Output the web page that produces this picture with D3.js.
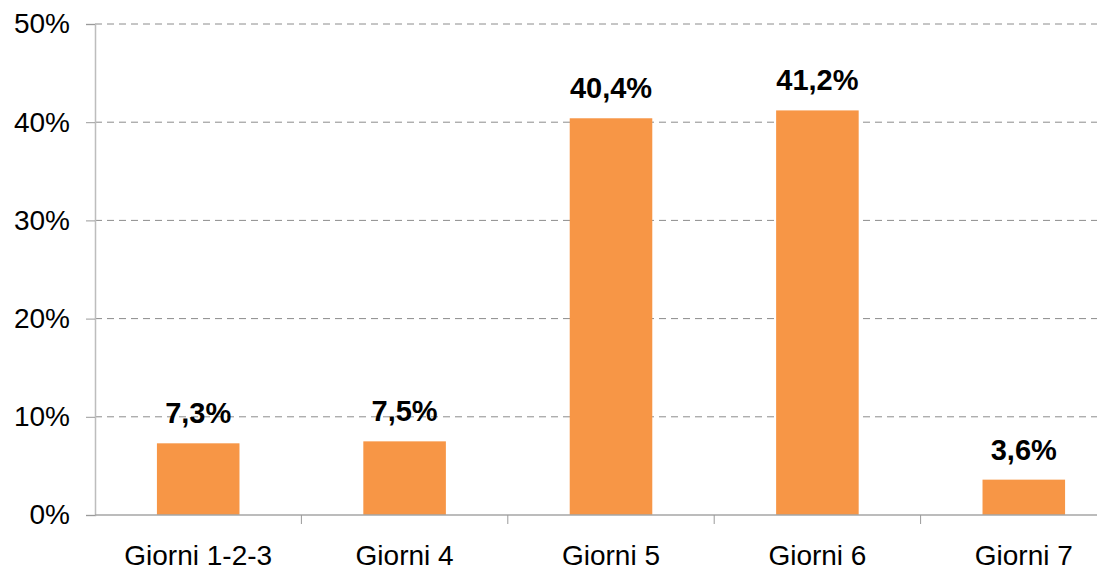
<!DOCTYPE html>
<html lang="it">
  <head>
    <meta charset="utf-8">
    <title>Giorni</title>
    <script src="https://cdn.jsdelivr.net/npm/d3@7"></script>
    <style>
      body { margin: 0; background: #fff; }
      svg { display: block; font-family: "Liberation Sans", Arial, sans-serif; }
    </style>
  </head>
  <body>
    <svg width="1097" height="571" id="mainsvg"></svg>
    <script>
      const categories = ['Giorni 1-2-3', 'Giorni 4', 'Giorni 5', 'Giorni 6', 'Giorni 7'];
      const values = [7.3, 7.5, 40.4, 41.2, 3.6];
      const yTicks = [0, 10, 20, 30, 40, 50];

      const svg = d3.select('#mainsvg');
      const margin = { top: 24, left: 95 };
      const innerHeight = 515 - margin.top;
      const innerWidth = 1032; // plot runs past the right edge of the picture

      const x = d3.scaleBand().domain(categories).range([0, innerWidth]).paddingInner(0.6).paddingOuter(0.3);
      const xTicks = d3.scalePoint().domain(d3.range(categories.length + 1)).range([0, innerWidth]);
      const y = d3.scaleLinear().domain([0, 50]).range([innerHeight, 0]);

      const g = svg.append('g').attr('transform', `translate(${margin.left}, ${margin.top})`);

      // gridlines
      g.selectAll('.grid').data(yTicks.filter(d => d > 0)).join('line')
        .attr('x1', 0).attr('x2', innerWidth)
        .attr('y1', d => y(d)).attr('y2', d => y(d))
        .attr('stroke', '#8c8c8c').attr('stroke-width', 1)
        .attr('stroke-dasharray', '7,5');

      // y axis
      const yAxis = d3.axisLeft(y).tickValues(yTicks).tickSize(9).tickPadding(16)
        .tickFormat(d => d + '%');
      const ya = g.append('g').call(yAxis);
      ya.select('.domain').attr('stroke', '#bdbdbd').attr('stroke-width', 1.5);
      ya.selectAll('.tick line').attr('stroke', '#9a9a9a');
      ya.selectAll('.tick text').attr('font-size', 28).attr('fill', '#000')
        .attr('font-family', '"Liberation Sans", Arial, sans-serif');

      // bars
      g.selectAll('.bar').data(values).join('rect')
        .attr('x', (d, i) => x(categories[i]))
        .attr('y', d => y(d))
        .attr('width', x.bandwidth())
        .attr('height', d => innerHeight - y(d))
        .attr('fill', '#f79646');

      // x axis line and ticks
      g.append('line').attr('x1', 0).attr('x2', innerWidth)
        .attr('y1', innerHeight).attr('y2', innerHeight)
        .attr('stroke', '#a6a6a6').attr('stroke-width', 1.5);
      g.selectAll('.xtick').data(xTicks.domain().slice(1)).join('line')
        .attr('x1', d => xTicks(d)).attr('x2', d => xTicks(d))
        .attr('y1', innerHeight).attr('y2', innerHeight + 9)
        .attr('stroke', '#9a9a9a');

      g.selectAll('.xlabel').data(categories).join('text')
        .attr('x', d => x(d) + x.bandwidth() / 2)
        .attr('y', innerHeight + 50)
        .attr('text-anchor', 'middle')
        .attr('font-size', 28)
        .text(d => d);

      // value labels
      g.selectAll('.vlabel').data(values).join('text')
        .attr('x', (d, i) => x(categories[i]) + x.bandwidth() / 2)
        .attr('y', d => y(d) - 20)
        .attr('text-anchor', 'middle')
        .attr('font-size', 29)
        .attr('font-weight', 'bold')
        .text(d => d.toFixed(1).replace('.', ',') + '%');
    </script>
  </body>
</html>
